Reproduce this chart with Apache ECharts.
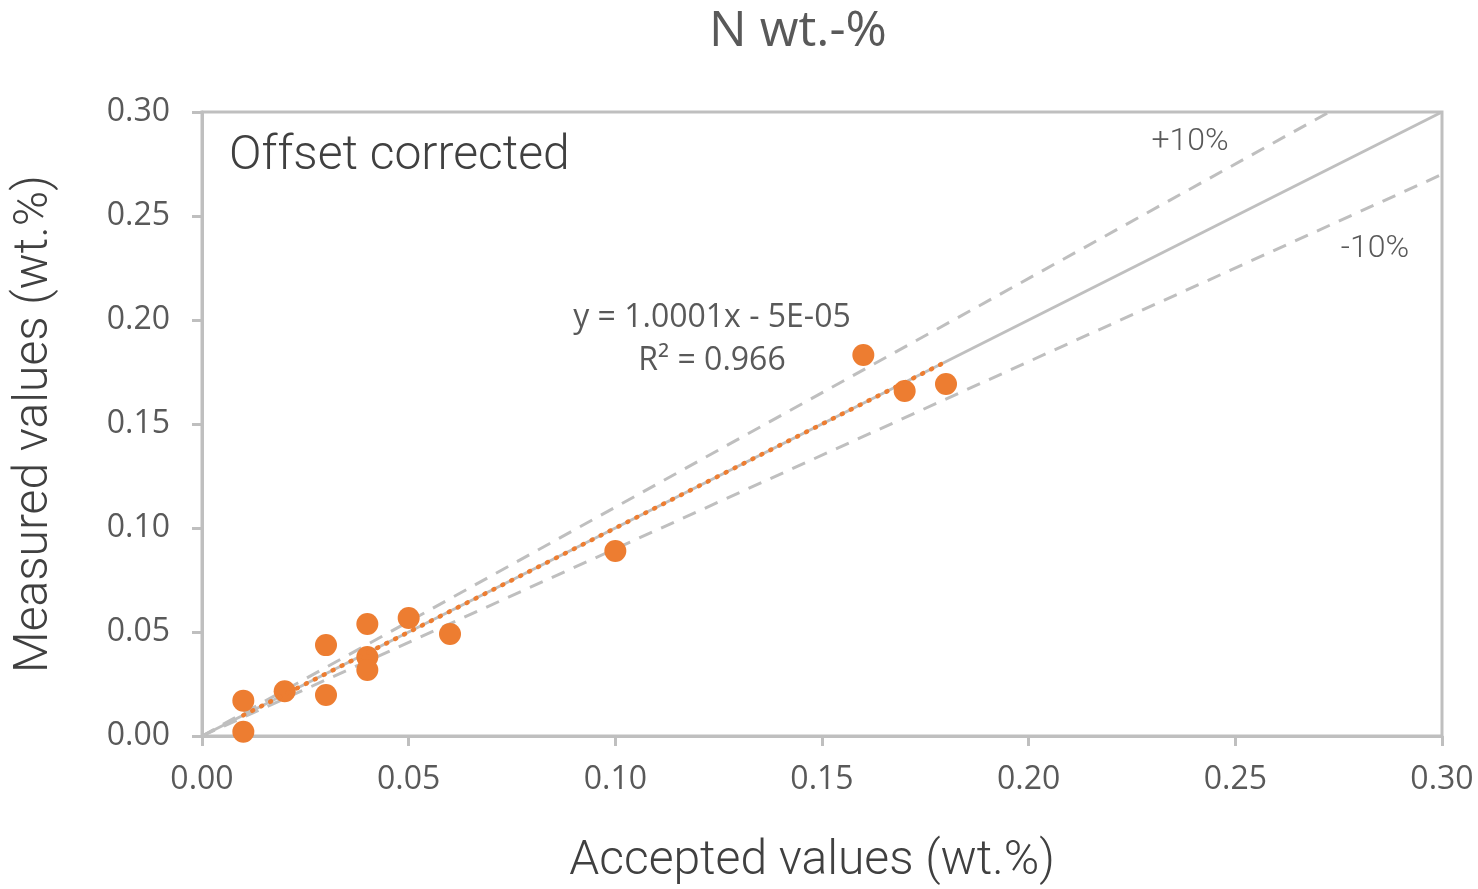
<!DOCTYPE html>
<html>
<head>
<meta charset="utf-8">
<script src="https://cdn.jsdelivr.net/npm/echarts@6/dist/echarts.min.js"></script>
<style>
  html, body { margin: 0; padding: 0; background: #ffffff; }
  #chart { width: 1478px; height: 889px; }
</style>
</head>
<body>
<div id="chart"></div>
<script>
// Accepted (reference) vs measured N contents, wt.%
const accepted = [0.01, 0.01, 0.02, 0.03, 0.03, 0.04, 0.04, 0.04, 0.05, 0.06, 0.10, 0.16, 0.17, 0.18];
const measured = [0.017, 0.002, 0.0215, 0.0437, 0.0197, 0.0538, 0.038, 0.0317, 0.0567, 0.049, 0.0889, 0.1832, 0.1659, 0.1692];

// Linear fit reported for the data
const fitSlope = 1.0001;
const fitIntercept = -0.00005;
const fitRange = [0.01, 0.18];

// Identity line and ±10 % tolerance bands
const axisMax = 0.30;
const bandFactors = [1.1, 0.9];
const tickLabels = ['0.00', '0.05', '0.10', '0.15', '0.20', '0.25', '0.30'];

const pts = accepted.map((x, i) => [x, measured[i]]);
const fitLine = fitRange.map(x => [x, fitSlope * x + fitIntercept]);
function bandLine(f) {
  const xEnd = Math.min(axisMax, axisMax / f);
  return [[0, 0], [xEnd, f * xEnd]];
}

const grey = '#BFBFBF';
const orange = '#ED7D31';
const textGrey = '#595959';

const chart = echarts.init(document.getElementById('chart'), null, { renderer: 'canvas' });
chart.setOption({
  animation: false,
  grid: {
    left: 202, right: 36, top: 112, bottom: 153,
    outerBoundsMode: 'none', containLabel: false,
    show: true, borderColor: grey, borderWidth: 3
  },
  xAxis: {
    type: 'value', min: 0, max: axisMax, interval: 0.05,
    name: 'Accepted values (wt.%)', nameLocation: 'middle', nameGap: 102,
    nameTextStyle: { fontFamily: 'Roboto', fontWeight: 300, fontSize: 48, color: '#404040', padding: [0, 20, 0, 0] },
    axisLine: { show: true, lineStyle: { color: grey, width: 3 } },
    axisTick: { show: true, length: 10, lineStyle: { color: grey, width: 3 } },
    axisLabel: {
      fontFamily: 'Open Sans', fontSize: 32, color: textGrey, margin: 28,
      formatter: v => tickLabels[Math.round(v / 0.05)]
    },
    splitLine: { show: false }
  },
  yAxis: {
    type: 'value', min: 0, max: axisMax, interval: 0.05,
    name: 'Measured values (wt.%)', nameLocation: 'middle', nameGap: 143,
    nameTextStyle: { fontFamily: 'Roboto', fontWeight: 300, fontSize: 48, color: '#404040' },
    axisLine: { show: true, lineStyle: { color: grey, width: 3 } },
    axisTick: { show: true, length: 10, lineStyle: { color: grey, width: 3 } },
    axisLabel: {
      fontFamily: 'Open Sans', fontSize: 32, color: textGrey, margin: 32,
      formatter: v => tickLabels[Math.round(v / 0.05)]
    },
    splitLine: { show: false }
  },
  series: [
    {
      type: 'line', data: [[0, 0], [axisMax, axisMax]], symbol: 'none', silent: true,
      lineStyle: { color: grey, width: 3 }, z: 1
    },
    {
      type: 'line', data: bandLine(bandFactors[0]), symbol: 'none', silent: true,
      lineStyle: { color: grey, width: 3, type: [14, 10] }, z: 1
    },
    {
      type: 'line', data: bandLine(bandFactors[1]), symbol: 'none', silent: true,
      lineStyle: { color: grey, width: 3, type: [14, 10] }, z: 1
    },
    {
      type: 'scatter', data: pts, symbol: 'circle', symbolSize: 22,
      itemStyle: { color: orange, opacity: 1 }, z: 3
    },
    {
      type: 'line', data: fitLine, symbol: 'none', silent: true,
      lineStyle: { color: orange, width: 4.5, type: [1, 9], cap: 'round' }, z: 4
    }
  ],
  graphic: [
    {
      type: 'text', x: 798, y: 32,
      style: { text: 'N wt.-%', font: '50px "Open Sans"', fill: textGrey, align: 'center', verticalAlign: 'middle' }
    },
    {
      type: 'text', x: 229, y: 157,
      style: { text: 'Offset corrected', font: '300 48px Roboto', fill: '#404040', align: 'left', verticalAlign: 'middle' }
    },
    {
      type: 'text', x: 1190, y: 142,
      style: { text: '+10%', font: '300 32px Roboto', fill: textGrey, align: 'center', verticalAlign: 'middle' }
    },
    {
      type: 'text', x: 1375, y: 249,
      style: { text: '-10%', font: '300 32px Roboto', fill: textGrey, align: 'center', verticalAlign: 'middle' }
    },
    {
      type: 'text', x: 712, y: 318,
      style: { text: 'y = 1.0001x - 5E-05', font: '32px "Open Sans"', fill: textGrey, align: 'center', verticalAlign: 'middle' }
    },
    {
      type: 'text', x: 712, y: 361,
      style: { text: 'R² = 0.966', font: '32px "Open Sans"', fill: textGrey, align: 'center', verticalAlign: 'middle' }
    }
  ]
});
</script>
</body>
</html>
